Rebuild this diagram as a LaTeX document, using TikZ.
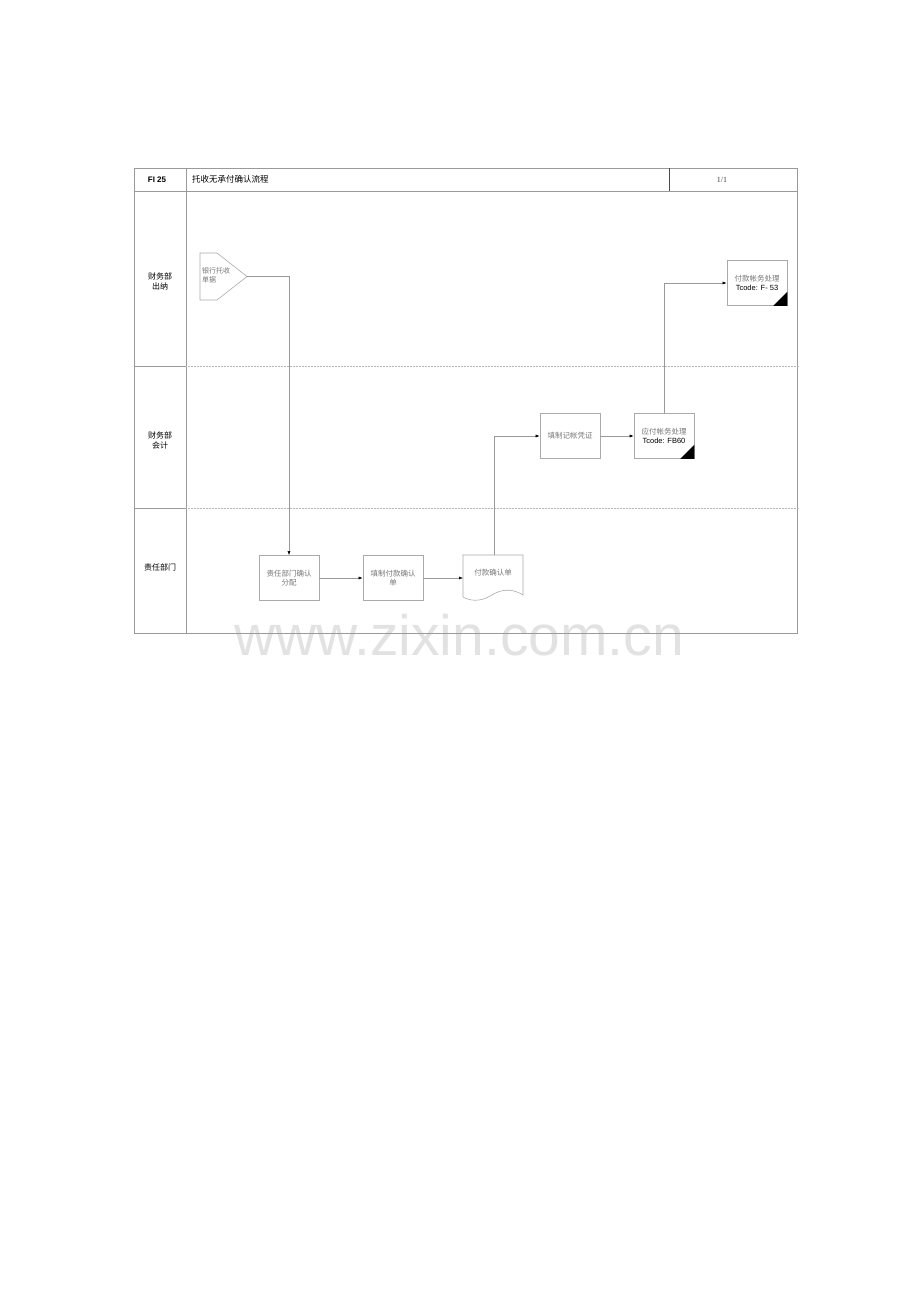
\documentclass[tikz,border=0pt]{standalone}
\usepackage{fontspec}
\setmainfont{Liberation Sans}
\newfontfamily\cjk{Noto Sans CJK SC}
\newfontfamily\serifnum{Liberation Serif}
\usetikzlibrary{arrows.meta}
\definecolor{linegray}{HTML}{9A9A9A}
\definecolor{boxgray}{HTML}{AAAAAA}
\definecolor{txtgray}{HTML}{777777}
\definecolor{wmgray}{HTML}{E2E2E2}
\tikzset{
  frameline/.style={draw=linegray, line width=0.6pt},
  laneline/.style={draw=linegray!70, line width=0.5pt, dash pattern=on 1pt off 0.5pt},
  procbox/.style={draw=boxgray, line width=0.6pt, fill=white, minimum width=60pt, minimum height=45pt, inner sep=1pt, align=center, font=\cjk\fontsize{7.5}{9.5}\selectfont, text=txtgray},
  flow/.style={draw=linegray, line width=0.5pt, -{Latex[length=4pt,width=3pt,black]}},
  plainflow/.style={draw=linegray, line width=0.5pt},
  lanelabel/.style={font=\cjk\fontsize{8}{10}\selectfont, align=center, text=black},
  corner/.style={fill=black, draw=none}
}
\begin{document}
\begin{tikzpicture}[x=1pt,y=-1pt]
\useasboundingbox (0,0) rectangle (920,1301);
% watermark
\node[anchor=base, font=\fontsize{57}{57}\selectfont, text=wmgray, inner sep=0] (wm) at (459,655) {www.zixin.com.cn};
% frame
\draw[frameline] (134,168) rectangle (797,633);
\draw[frameline] (134,191) -- (797,191);
\draw[frameline] (186,168) -- (186,633);
\draw[draw=black!70, line width=0.6pt] (669,168) -- (669,191);
\draw[frameline] (134,366) -- (186,366);
\draw[frameline] (134,508) -- (186,508);
\draw[laneline] (186,366) -- (799,366);
\draw[laneline] (186,508) -- (799,508);
% header texts
\node[font=\bfseries\fontsize{8}{10}\selectfont] (hid) at (157,179.5) {FI 25};
\node[anchor=west, font=\cjk\fontsize{8.5}{10}\selectfont, inner sep=0] (htitle) at (192,179.5) {托收无承付确认流程};
\node[font=\serifnum\fontsize{8}{10}\selectfont, text=black!75] (hpage) at (722,179.5) {1/1};
% lane labels
\node[lanelabel] (l1) at (160,281) {财务部\\出纳};
\node[lanelabel] (l2) at (160,440) {财务部\\会计};
\node[lanelabel] (l3) at (160,567) {责任部门};
% off-page connector (pentagon)
\draw[draw=boxgray, line width=0.6pt, fill=white] (200,253) -- (217,253) -- (247,276.5) -- (217,300) -- (200,300) -- cycle;
\coordinate (pent) at (247,276.5);
\node[anchor=north west, align=left, font=\cjk\fontsize{7}{9}\selectfont, text=txtgray, inner sep=0] (pentxt) at (202,267) {银行托收\\单据};
% process boxes
\node[procbox] (b1) at (289,578) {责任部门确认\\分配};
\node[procbox] (b2) at (393,578) {填制付款确认\\单};
\node[procbox] (b3) at (570,436) {填制记帐凭证};
\node[procbox] (b4) at (664,436) {应付帐务处理\\[-1pt]{\fontspec{Liberation Sans}\color{black}\fontsize{7.5}{9}\selectfont Tcode: FB60}};
\node[procbox] (b5) at (757,283) {付款帐务处理\\[-1pt]{\fontspec{Liberation Sans}\color{black}\fontsize{7.5}{9}\selectfont Tcode: F- 53}};
\fill[corner] (b4.south east) -- ++(-14,0) -- ++(14,-14) -- cycle;
\fill[corner] (b5.south east) -- ++(-14,0) -- ++(14,-14) -- cycle;
% document shape
\draw[draw=boxgray, line width=0.6pt, fill=white] (463,555) -- (523,555) -- (523,595)
  .. controls (510,587) and (500,590) .. (490,596)
  .. controls (480,602) and (470,601) .. (463,597) -- cycle;
\coordinate (doctop) at (494,555);
\coordinate (docleft) at (463,578);
\node[font=\cjk\fontsize{7.5}{9}\selectfont, text=txtgray] (doctxt) at (493,573) {付款确认单};
% connectors
\draw[flow] (pent) -| (b1.north);
\draw[flow] (b1.east) -- (b2.west);
\draw[flow] (b2.east) -- (docleft);
\draw[flow] (doctop) |- (b3.west);
\draw[flow] (b3.east) -- (b4.west);
\draw[flow] (b4.north) |- (b5.west);
\end{tikzpicture}
\end{document}
